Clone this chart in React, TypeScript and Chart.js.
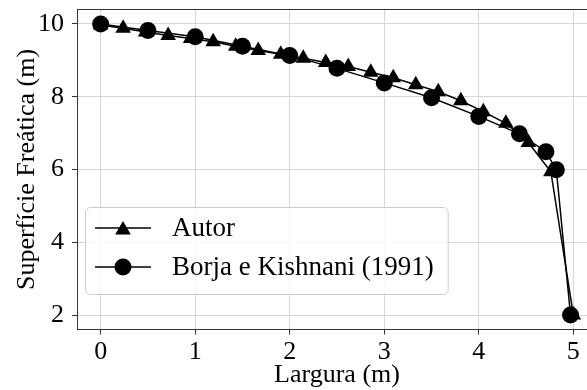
import React, { useEffect, useRef } from "react";
import { Chart, registerables } from "chart.js";

Chart.register(...registerables);

// ---- Data ----
const autorLabel = "Autor";
const autorX = [0, 0.238, 0.476, 0.714, 0.952, 1.19, 1.429, 1.667, 1.905, 2.143, 2.381, 2.619, 2.857, 3.095, 3.333, 3.571, 3.81, 4.048, 4.286, 4.524, 4.762, 5.0];
const autorY = [9.97, 9.88, 9.78, 9.68, 9.6, 9.51, 9.39, 9.27, 9.17, 9.06, 8.94, 8.83, 8.67, 8.52, 8.33, 8.14, 7.89, 7.59, 7.27, 6.74, 5.94, 2.0];

const borjaLabel = "Borja e Kishnani (1991)";
const borjaX = [0, 0.5, 1.0, 1.5, 2.0, 2.5, 3.0, 3.5, 4.0, 4.43, 4.71, 4.82, 4.97];
const borjaY = [10.0, 9.82, 9.65, 9.39, 9.13, 8.78, 8.38, 7.97, 7.46, 6.98, 6.49, 5.99, 2.0];

const xTicks = [0, 1, 2, 3, 4, 5];
const yTicks = [2, 4, 6, 8, 10];
const xTitle = "Largura (m)";
const yTitle = "Superfície Freática (m)";

const FONT = "'Liberation Serif', 'DejaVu Serif', serif";
const FS = 26;
const LEG_FS = 27;

const TRI_R = 9;
const CIRC_R = 8.5;

function drawTriangle(ctx: CanvasRenderingContext2D, x: number, y: number, r: number) {
  ctx.beginPath();
  let a = 0;
  ctx.moveTo(x + Math.sin(a) * r, y - Math.cos(a) * r);
  a += (2 * Math.PI) / 3;
  ctx.lineTo(x + Math.sin(a) * r, y - Math.cos(a) * r);
  a += (2 * Math.PI) / 3;
  ctx.lineTo(x + Math.sin(a) * r, y - Math.cos(a) * r);
  ctx.closePath();
  ctx.fill();
}

function drawCircle(ctx: CanvasRenderingContext2D, x: number, y: number, r: number) {
  ctx.beginPath();
  ctx.arc(x, y, r, 0, Math.PI * 2);
  ctx.fill();
}

const spinePlugin = {
  id: "spines",
  afterDatasetsDraw(chart: any) {
    const { ctx, chartArea } = chart;
    ctx.save();
    ctx.strokeStyle = "#333";
    ctx.lineWidth = 1;
    ctx.strokeRect(
      Math.round(chartArea.left) + 0.5,
      Math.round(chartArea.top) + 0.5,
      Math.round(chartArea.right - chartArea.left),
      Math.round(chartArea.bottom - chartArea.top)
    );
    ctx.restore();
  },
};

const legendPlugin = {
  id: "mplLegend",
  afterDraw(chart: any) {
    const { ctx, chartArea } = chart;
    const entries = [
      { label: autorLabel, marker: "tri" },
      { label: borjaLabel, marker: "circ" },
    ];
    ctx.save();
    ctx.font = `${LEG_FS}px ${FONT}`;
    let maxW = 0;
    for (const e of entries) maxW = Math.max(maxW, ctx.measureText(e.label).width);
    const bx = chartArea.left + 8;
    const by = chartArea.bottom - 35.6 - 87;
    const bw = 10 + 56 + 21 + maxW + 14;
    const bh = 87;
    ctx.fillStyle = "rgba(255,255,255,0.8)";
    ctx.strokeStyle = "#cccccc";
    ctx.lineWidth = 1;
    ctx.beginPath();
    (ctx as any).roundRect(bx + 0.5, by + 0.5, bw, bh, 5);
    ctx.fill();
    ctx.stroke();
    entries.forEach((e, i) => {
      const cy = by + 21 + i * 39;
      const hx0 = bx + 10;
      const hx1 = hx0 + 56;
      ctx.strokeStyle = "#000";
      ctx.lineWidth = 1.5;
      ctx.beginPath();
      ctx.moveTo(hx0, cy);
      ctx.lineTo(hx1, cy);
      ctx.stroke();
      ctx.fillStyle = "#000";
      if (e.marker === "tri") drawTriangle(ctx, (hx0 + hx1) / 2, cy + 2, TRI_R);
      else drawCircle(ctx, (hx0 + hx1) / 2, cy, CIRC_R);
      ctx.fillStyle = "#000";
      ctx.textBaseline = "middle";
      ctx.textAlign = "left";
      ctx.fillText(e.label, hx1 + 21, cy + 1);
    });
    ctx.restore();
  },
};

export default function App() {
  const ref = useRef<HTMLCanvasElement | null>(null);
  useEffect(() => {
    if (!ref.current) return;
    const chart = new Chart(ref.current, {
      type: "scatter",
      data: {
        datasets: [
          {
            label: autorLabel,
            data: autorX.map((x, i) => ({ x, y: autorY[i] })),
            showLine: true,
            borderColor: "#000",
            backgroundColor: "#000",
            borderWidth: 1.5,
            pointStyle: "triangle",
            pointRadius: TRI_R,
            pointBorderWidth: 0,
            pointBackgroundColor: "#000",
            order: 1,
          },
          {
            label: borjaLabel,
            data: borjaX.map((x, i) => ({ x, y: borjaY[i] })),
            showLine: true,
            borderColor: "#000",
            backgroundColor: "#000",
            borderWidth: 1.5,
            pointStyle: "circle",
            pointRadius: CIRC_R,
            pointBorderWidth: 0,
            pointBackgroundColor: "#000",
            order: 0,
          },
        ],
      },
      options: {
        animation: false,
        responsive: false,
        maintainAspectRatio: false,
        layout: { padding: { top: 9.4, right: 13, bottom: 0, left: 0 } },
        plugins: { legend: { display: false }, tooltip: { enabled: false } },
        scales: {
          x: {
            type: "linear",
            min: -0.25,
            max: 5.25,
            afterBuildTicks: (s: any) => {
              s.ticks = xTicks.map((v) => ({ value: v }));
            },
            afterFit: (s: any) => {
              s.height = 390 - 329.6;
              s.paddingLeft = 0;
              s.paddingRight = 0;
            },
            grid: { color: "#d6d6d6", lineWidth: 1, tickLength: 5, tickColor: "#333", drawTicks: true },
            border: { display: false },
            ticks: {
              color: "#000",
              font: { family: FONT, size: FS },
              padding: 2,
              maxRotation: 0,
              autoSkip: false,
              callback: (v: any) => String(v),
            },
            title: {
              display: true,
              text: xTitle,
              color: "#000",
              font: { family: FONT, size: FS },
              padding: { top: 0, bottom: -1 },
            },
          },
          y: {
            type: "linear",
            min: 1.6,
            max: 10.4,
            afterBuildTicks: (s: any) => {
              s.ticks = yTicks.map((v) => ({ value: v }));
            },
            afterFit: (s: any) => {
              s.width = 77;
              s.paddingTop = 0;
              s.paddingBottom = 0;
            },
            grid: { color: "#d6d6d6", lineWidth: 1, tickLength: 5, tickColor: "#333", drawTicks: true },
            border: { display: false },
            ticks: {
              color: "#000",
              font: { family: FONT, size: FS },
              padding: 8,
              autoSkip: false,
              callback: (v: any) => String(v),
            },
            title: {
              display: true,
              text: yTitle,
              color: "#000",
              font: { family: FONT, size: FS },
              padding: { top: 12, bottom: 0 },
            },
          },
        },
      },
      plugins: [spinePlugin, legendPlugin],
    } as any);
    return () => chart.destroy();
  }, []);
  return (
    <div style={{ position: "fixed", left: 0, top: 0, width: 610, height: 390, background: "#fff", overflow: "hidden" }}>
      <canvas ref={ref} width={610} height={390} style={{ width: 610, height: 390, display: "block" }} />
    </div>
  );
}
